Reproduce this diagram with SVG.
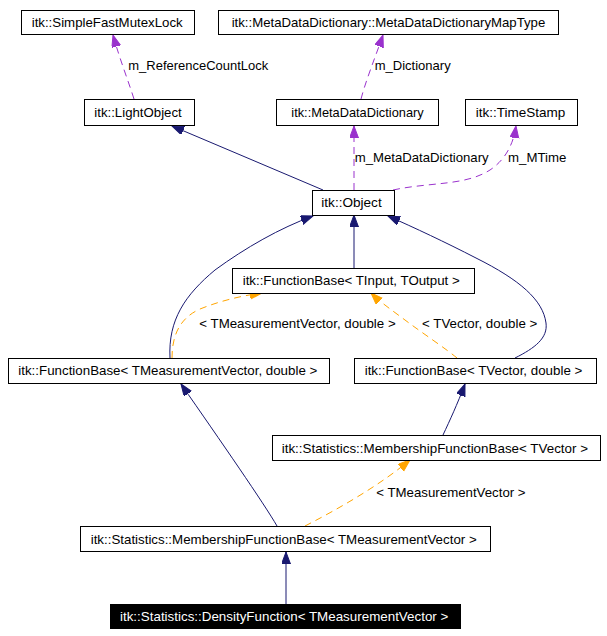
<svg xmlns="http://www.w3.org/2000/svg" width="607" height="636" viewBox="0 0 607 636">
<style>
.n rect{fill:#fff;stroke:#000;stroke-width:1}
.t{font-family:"Liberation Sans",Arial,sans-serif;font-size:13.5px;fill:#000}
.w{fill:#fff}
.inh{fill:none;stroke:#191970;stroke-width:1}
.use{fill:none;stroke:#9a32cd;stroke-width:1;stroke-dasharray:7,5}
.tpl{fill:none;stroke:#ffa500;stroke-width:1;stroke-dasharray:7,5}
</style>
<defs>
<marker id="aN" markerUnits="userSpaceOnUse" markerWidth="13" markerHeight="10" refX="12" refY="4.5" orient="auto"><path d="M0,0 L12,4.5 L0,9 z" fill="#191970" stroke="#191970"/></marker>
<marker id="aP" markerUnits="userSpaceOnUse" markerWidth="13" markerHeight="10" refX="12" refY="4.5" orient="auto"><path d="M0,0 L12,4.5 L0,9 z" fill="#9a32cd" stroke="#9a32cd"/></marker>
<marker id="aO" markerUnits="userSpaceOnUse" markerWidth="13" markerHeight="10" refX="12" refY="4.5" orient="auto"><path d="M0,0 L12,4.5 L0,9 z" fill="#ffa500" stroke="#ffa500"/></marker>
</defs>
<rect width="607" height="636" fill="#fff"/>
<g id="edges">
<path class="use" d="M134,99 C128,80 120,60 113,35" marker-end="url(#aP)"/>
<text class="t" x="128.3" y="70" textLength="140" lengthAdjust="spacingAndGlyphs">m_ReferenceCountLock</text>
<path class="use" d="M361,99 C366,80 375,58 383,35" marker-end="url(#aP)"/>
<text class="t" x="374.7" y="70" textLength="76" lengthAdjust="spacingAndGlyphs">m_Dictionary</text>
<path class="inh" d="M323,190 L172,126" marker-end="url(#aN)"/>
<path class="use" d="M354,190 L354,126" marker-end="url(#aP)"/>
<text class="t" x="354.7" y="161.7" textLength="134" lengthAdjust="spacingAndGlyphs">m_MetaDataDictionary</text>
<path class="use" d="M393,190 C430,182 465,186 490,170 C508,158 514,140 516,126" marker-end="url(#aP)"/>
<text class="t" x="508" y="161.7" textLength="58.3" lengthAdjust="spacingAndGlyphs">m_MTime</text>
<path class="inh" d="M354,268 L354,215" marker-end="url(#aN)"/>
<path class="inh" d="M170,358 C168,320 185,295 215,270 C245,248 280,228 313,216" marker-end="url(#aN)"/>
<path class="inh" d="M515,358 C535,348 548,338 546,323 C543,300 520,280 476,258 C445,242 415,228 388,216" marker-end="url(#aN)"/>
<path class="tpl" d="M172,358 C172,335 180,318 200,309 C220,301 240,296 262,293" marker-end="url(#aO)"/>
<text class="t" x="199.3" y="328.3" textLength="196.4" lengthAdjust="spacingAndGlyphs">&lt; TMeasurementVector, double &gt;</text>
<path class="tpl" d="M457,358 C445,348 425,335 405,320 C393,311 380,302 371,293" marker-end="url(#aO)"/>
<text class="t" x="422" y="328.3" textLength="115.3" lengthAdjust="spacingAndGlyphs">&lt; TVector, double &gt;</text>
<path class="inh" d="M443,435 C450,420 457,405 465,384" marker-end="url(#aN)"/>
<path class="inh" d="M277,526 C265,505 220,440 181,384" marker-end="url(#aN)"/>
<path class="tpl" d="M305,526 C340,508 380,485 410,460" marker-end="url(#aO)"/>
<text class="t" x="376.3" y="496.7" textLength="149.3" lengthAdjust="spacingAndGlyphs">&lt; TMeasurementVector &gt;</text>
<path class="inh" d="M286,604 L286,552" marker-end="url(#aN)"/>
</g>
<g id="n_mutex" class="n"><rect x="21.5" y="10.5" width="173" height="24"/><text class="t" x="31.7" y="26.5" textLength="151" lengthAdjust="spacingAndGlyphs">itk::SimpleFastMutexLock</text></g>
<g id="n_maptype" class="n"><rect x="218.5" y="10.5" width="340" height="24"/><text class="t" x="231.7" y="26.5" textLength="313.6" lengthAdjust="spacingAndGlyphs">itk::MetaDataDictionary::MetaDataDictionaryMapType</text></g>
<g id="n_lightobject" class="n"><rect x="84.5" y="99.5" width="110" height="26"/><text class="t" x="94.3" y="116.5" textLength="87.4" lengthAdjust="spacingAndGlyphs">itk::LightObject</text></g>
<g id="n_mdd" class="n"><rect x="276.5" y="99.5" width="162" height="26"/><text class="t" x="291.3" y="116.5" textLength="132.4" lengthAdjust="spacingAndGlyphs">itk::MetaDataDictionary</text></g>
<g id="n_timestamp" class="n"><rect x="465.5" y="99.5" width="112" height="26"/><text class="t" x="475.7" y="116.5" textLength="89.6" lengthAdjust="spacingAndGlyphs">itk::TimeStamp</text></g>
<g id="n_object" class="n"><rect x="312.5" y="190.5" width="82" height="25"/><text class="t" x="321.3" y="206.5" textLength="60.4" lengthAdjust="spacingAndGlyphs">itk::Object</text></g>
<g id="n_fb_io" class="n"><rect x="232.5" y="268.5" width="242" height="25"/><text class="t" x="242.7" y="285" textLength="217" lengthAdjust="spacingAndGlyphs">itk::FunctionBase&lt; TInput, TOutput &gt;</text></g>
<g id="n_fb_mv" class="n"><rect x="8.5" y="358.5" width="321" height="25"/><text class="t" x="18.3" y="375" textLength="299" lengthAdjust="spacingAndGlyphs">itk::FunctionBase&lt; TMeasurementVector, double &gt;</text></g>
<g id="n_fb_v" class="n"><rect x="354.5" y="358.5" width="242" height="25"/><text class="t" x="364.7" y="375" textLength="217.6" lengthAdjust="spacingAndGlyphs">itk::FunctionBase&lt; TVector, double &gt;</text></g>
<g id="n_mfb_v" class="n"><rect x="272.5" y="435.5" width="328" height="25"/><text class="t" x="281.7" y="453" textLength="306.3" lengthAdjust="spacingAndGlyphs">itk::Statistics::MembershipFunctionBase&lt; TVector &gt;</text></g>
<g id="n_mfb_mv" class="n"><rect x="80.5" y="526.5" width="410" height="25"/><text class="t" x="90.7" y="543.5" textLength="386" lengthAdjust="spacingAndGlyphs">itk::Statistics::MembershipFunctionBase&lt; TMeasurementVector &gt;</text></g>
<g id="n_density"><rect x="110" y="604" width="351" height="25" fill="#000"/><text class="t w" x="120" y="621" textLength="328.3" lengthAdjust="spacingAndGlyphs">itk::Statistics::DensityFunction&lt; TMeasurementVector &gt;</text></g>
</svg>
